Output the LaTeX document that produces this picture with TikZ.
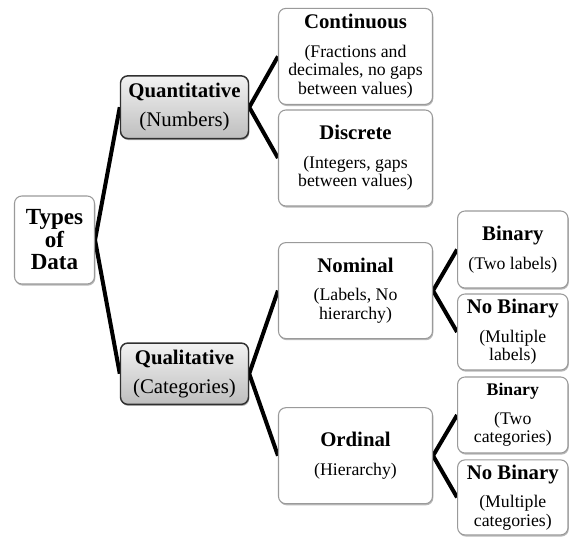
\documentclass[tikz,border=0pt]{standalone}
\usepackage{fontspec}
\setmainfont{Liberation Serif}
\usetikzlibrary{shadows}
\pgfdeclarelayer{bg}
\pgfsetlayers{bg,main}
\definecolor{leafborder}{HTML}{9A9A9A}
\definecolor{midborder}{HTML}{303030}
\definecolor{gradtop}{HTML}{F2F2F2}
\definecolor{gradbot}{HTML}{BEBEBE}
\tikzset{
  leafbox/.style={draw=leafborder, line width=0.8pt, fill=white, rounded corners=5.5pt,
    align=center, inner sep=0pt,
    drop shadow={shadow xshift=0.6pt, shadow yshift=-1.2pt, opacity=0.28, fill=black},
    font=\fontsize{13.3pt}{13.9pt}\selectfont},
  midbox/.style={draw=midborder, line width=1.1pt, top color=gradtop, bottom color=gradbot,
    rounded corners=5.5pt, align=center, inner sep=0pt,
    drop shadow={shadow xshift=0.6pt, shadow yshift=-1.2pt, opacity=0.3, fill=black},
    minimum width=96pt, font=\fontsize{15.6pt}{21.75pt}\selectfont},
  wide/.style={minimum width=115.5pt, minimum height=72pt},
  narrow/.style={minimum width=82.8pt},
  link/.style={line width=3pt, draw=black, line join=miter},
}
\newcommand{\ttl}[1]{{\bfseries\fontsize{15.6pt}{16pt}\selectfont #1}\\[7.5pt]}
\newcommand{\ttlsmall}[1]{{\bfseries\fontsize{13.3pt}{14pt}\selectfont #1}\\[7.5pt]}
\begin{document}
\begin{tikzpicture}[x=0.75pt,y=-0.75pt]
\useasboundingbox (0,0) rectangle (573,536);
\node[leafbox, minimum width=60pt, minimum height=66pt,
  font=\bfseries\fontsize{17.3pt}{16.9pt}\selectfont] (types) at (54.5,240) {Types\\of\\Data};
\node[midbox, minimum height=47pt] (quant) at (184.5,107.2) {\textbf{Quantitative}\\(Numbers)};
\node[midbox, minimum height=46pt] (qual) at (184.5,373.7) {\textbf{Qualitative}\\(Categories)};
\node[leafbox, wide] (cont) at (355.5,56.4) {\ttl{Continuous}(Fractions and\\decimales, no gaps\\between values)};
\node[leafbox, wide] (disc) at (355.5,158) {\ttl{Discrete}(Integers, gaps\\between values)};
\node[leafbox, wide] (nom) at (355.5,290.6) {\ttl{Nominal}(Labels, No\\hierarchy)};
\node[leafbox, wide] (ord) at (355.5,455.7) {\ttl{Ordinal}(Hierarchy)};
\node[leafbox, narrow, minimum height=57.75pt] (bin1) at (512.8,249.5) {\ttl{Binary}(Two labels)};
\node[leafbox, narrow, minimum height=57pt] (nob1) at (512.8,332) {\ttl{No Binary}(Multiple\\labels)};
\node[leafbox, narrow, minimum height=57pt] (bin2) at (512.8,415) {\ttlsmall{Binary}(Two\\categories)};
\node[leafbox, narrow, minimum height=56.25pt] (nob2) at (512.8,497.4) {\ttl{No Binary}(Multiple\\categories)};
\begin{pgfonlayer}{bg}
\draw[link] (quant.west) -- (types.east) -- (qual.west);
\draw[link] (cont.west) -- (quant.east) -- (disc.west);
\draw[link] (nom.west) -- (qual.east) -- (ord.west);
\draw[link] (bin1.west) -- (nom.east) -- (nob1.west);
\draw[link] (bin2.west) -- (ord.east) -- (nob2.west);
\end{pgfonlayer}
\end{tikzpicture}
\end{document}
